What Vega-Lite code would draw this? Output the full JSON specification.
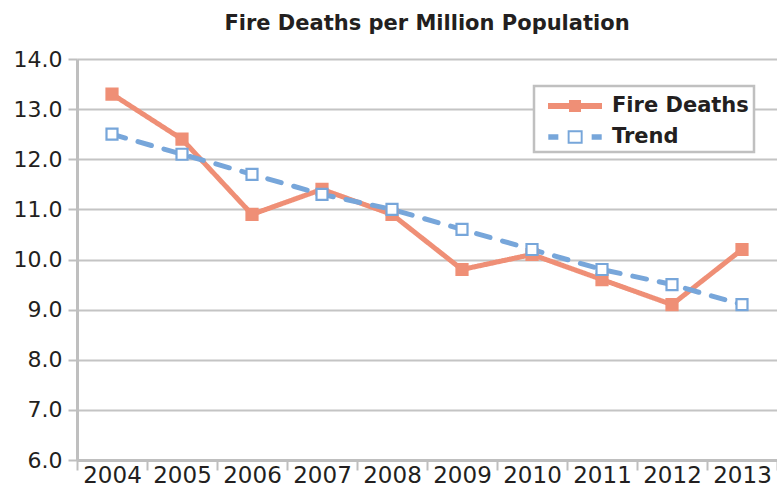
{
  "$schema": "https://vega.github.io/schema/vega-lite/v6.json",
  "width": 700,
  "height": 401,
  "autosize": {"type": "none"},
  "padding": {"left": 77, "top": 59, "right": 0, "bottom": 32},
  "background": "white",
  "title": {
    "text": "Fire Deaths per Million Population",
    "font": "DejaVu Sans",
    "fontSize": 21,
    "fontWeight": "bold",
    "color": "#231f20",
    "anchor": "middle",
    "frame": "group",
    "offset": 14
  },
  "config": {"view": {"stroke": null}},
  "data": {
    "values": [
      {"year": "2004", "series": "Fire Deaths", "value": 13.3},
      {"year": "2005", "series": "Fire Deaths", "value": 12.4},
      {"year": "2006", "series": "Fire Deaths", "value": 10.9},
      {"year": "2007", "series": "Fire Deaths", "value": 11.4},
      {"year": "2008", "series": "Fire Deaths", "value": 10.9},
      {"year": "2009", "series": "Fire Deaths", "value": 9.8},
      {"year": "2010", "series": "Fire Deaths", "value": 10.1},
      {"year": "2011", "series": "Fire Deaths", "value": 9.6},
      {"year": "2012", "series": "Fire Deaths", "value": 9.1},
      {"year": "2013", "series": "Fire Deaths", "value": 10.2},
      {"year": "2004", "series": "Trend", "value": 12.5},
      {"year": "2005", "series": "Trend", "value": 12.1},
      {"year": "2006", "series": "Trend", "value": 11.7},
      {"year": "2007", "series": "Trend", "value": 11.3},
      {"year": "2008", "series": "Trend", "value": 11.0},
      {"year": "2009", "series": "Trend", "value": 10.6},
      {"year": "2010", "series": "Trend", "value": 10.2},
      {"year": "2011", "series": "Trend", "value": 9.8},
      {"year": "2012", "series": "Trend", "value": 9.5},
      {"year": "2013", "series": "Trend", "value": 9.1}
    ]
  },
  "encoding": {
    "x": {
      "field": "year",
      "type": "ordinal",
      "scale": {"type": "band", "paddingInner": 0, "paddingOuter": 0},
      "axis": {
        "title": null,
        "tickBand": "extent",
        "labelAngle": 0,
        "grid": false,
        "domainColor": "#bfbfbf",
        "domainWidth": 3,
        "tickColor": "#bfbfbf",
        "tickWidth": 2,
        "tickSize": 10,
        "labelFont": "DejaVu Sans",
        "labelFontSize": 23,
        "labelColor": "#231f20",
        "labelPadding": -6
      }
    },
    "y": {
      "field": "value",
      "type": "quantitative",
      "scale": {"domain": [6, 14], "nice": false, "zero": false},
      "axis": {
        "title": null,
        "values": [6, 7, 8, 9, 10, 11, 12, 13, 14],
        "format": ".1f",
        "domainColor": "#bfbfbf",
        "domainWidth": 3,
        "tickColor": "#bfbfbf",
        "tickWidth": 2,
        "tickSize": 9,
        "gridColor": "#c4c4c4",
        "gridWidth": 2,
        "labelFont": "DejaVu Sans",
        "labelFontSize": 22,
        "labelColor": "#231f20",
        "labelPadding": 6
      }
    }
  },
  "layer": [
    {
      "mark": {"type": "line", "strokeWidth": 5, "strokeCap": "round", "strokeJoin": "round"},
      "encoding": {
        "color": {
          "field": "series",
          "type": "nominal",
          "scale": {"domain": ["Fire Deaths", "Trend"], "range": ["#ef8f76", "#77a6da"]},
          "legend": {
            "orient": "none",
            "legendX": 457,
            "legendY": 27,
            "title": null,
            "fillColor": "white",
            "strokeColor": "#c0c0c0",
            "padding": 5,
            "symbolSize": 900,
            "labelOffset": 43,
            "rowPadding": 6,
            "labelFont": "DejaVu Sans",
            "labelFontSize": 21,
            "labelFontWeight": "bold",
            "labelColor": "#231f20",
            "encode": {
              "legend": {"update": {"strokeWidth": {"value": 2.5}}},
              "symbols": {
                "update": {
                  "shape": {"value": "M-0.4,-0.2L3.2,-0.2L3.2,0.2L-0.4,0.2Z M1,-0.4L1.8,-0.4L1.8,0.4L1,0.4Z"},
                  "fill": {"signal": "datum.label === 'Trend' ? 'transparent' : '#ef8f76'"},
                  "fillOpacity": {"value": 1},
                  "stroke": {"value": "transparent"},
                  "strokeWidth": {"value": 0},
                  "opacity": {"value": 1}
                }
              }
            }
          }
        },
        "strokeDash": {
          "condition": {"test": "datum.series === 'Trend'", "value": [14, 13]},
          "value": [1, 0]
        }
      }
    },
    {
      "transform": [{"filter": "datum.series === 'Fire Deaths'"}],
      "mark": {"type": "point", "shape": "square", "size": 121, "strokeWidth": 2.2, "filled": true, "fill": "#ef8f76", "stroke": "#ef8f76", "opacity": 1}
    },
    {
      "transform": [{"filter": "datum.series === 'Trend'"}],
      "mark": {"type": "point", "shape": "square", "size": 121, "strokeWidth": 2.2, "filled": true, "fill": "#ffffff", "stroke": "#77a6da", "opacity": 1}
    },
    {
      "transform": [{"filter": "datum.series === 'none'"}],
      "mark": {"type": "point", "filled": true, "fill": "#77a6da", "stroke": "transparent", "strokeWidth": 0, "opacity": 1},
      "encoding": {
        "shape": {
          "field": "series",
          "type": "nominal",
          "scale": {"domain": ["Trend"], "range": ["M-0.38,-0.19L0.29,-0.19L0.29,0.19L-0.38,0.19Z M2.51,-0.19L3.18,-0.19L3.18,0.19L2.51,0.19Z M0.91,-0.45L1.91,-0.45L1.91,0.45L0.91,0.45Z M1.04,-0.32L1.04,0.32L1.78,0.32L1.78,-0.32Z"]},
          "legend": {
            "orient": "none",
            "legendX": 457,
            "legendY": 58,
            "title": null,
            "padding": 5,
            "symbolSize": 900,
            "labelOffset": 43,
            "labelFont": "DejaVu Sans",
            "labelFontSize": 21,
            "labelFontWeight": "bold",
            "labelColor": "transparent",
            "labelOpacity": 0,
            "symbolFillColor": "#77a6da",
            "symbolStrokeColor": "transparent",
            "symbolStrokeWidth": 0,
            "symbolOpacity": 1
          }
        }
      }
    }
  ]
}
